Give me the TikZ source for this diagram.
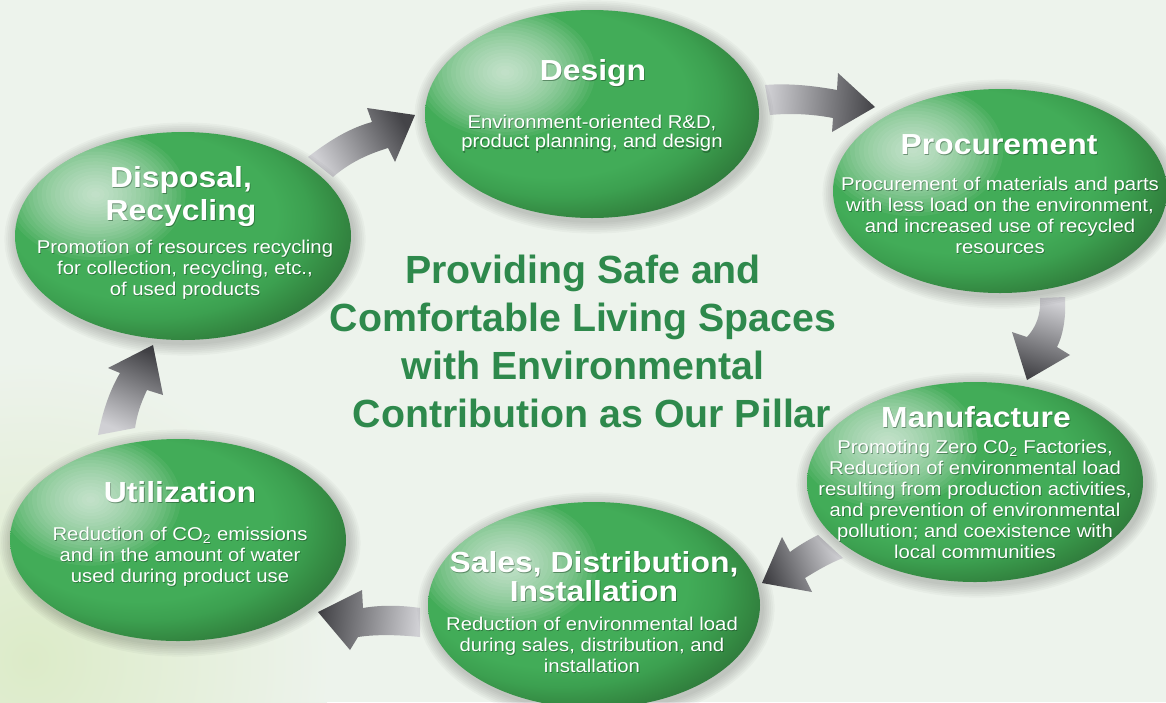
\documentclass[tikz,border=0pt]{standalone}
\usepackage{fontspec}
\setmainfont{Liberation Sans}
\newfontfamily\wf{Liberation Sans}[FakeStretch=1.1]
\usetikzlibrary{shapes.geometric}
\definecolor{bgc}{RGB}{237,243,236}
\definecolor{glowc}{RGB}{220,235,200}
\definecolor{cgreen}{RGB}{46,137,76}
\definecolor{arrlight}{RGB}{208,208,212}
\definecolor{arrdark}{RGB}{68,68,72}
\definecolor{gshadow}{RGB}{18,58,28}
\definecolor{gC}{RGB}{66,172,88}
\definecolor{gD}{RGB}{60,160,80}
\definecolor{gE}{RGB}{52,137,66}
\definecolor{gF}{RGB}{44,113,56}
\definecolor{gG}{RGB}{40,100,52}
\pgfdeclareradialshading{greenball}{\pgfqpoint{-10bp}{8bp}}{%
  color(0bp)=(gC); color(20bp)=(gC);
  color(24bp)=(gD); color(28bp)=(gE); color(32bp)=(gF); color(38bp)=(gG);
  color(50bp)=(gG)}
\newcommand\ttlfont{\wf\bfseries\fontsize{29}{33}\selectfont}
\newcommand\ttlfontb{\wf\bfseries\fontsize{29}{28.5}\selectfont}
\newcommand\bdyfont{\wf\fontsize{18.5}{21}\selectfont}
\newcommand\bdyfontb{\wf\fontsize{18.5}{19.5}\selectfont}
\newcommand\gtext[5]{%
  \node[txt, font={#4}, text=gshadow, opacity=0.45, xshift=0.8pt, yshift=-1.2pt] (#1s) at (#2,#3) {#5};
  \node[txt, font={#4}, text=white] (#1) at (#2,#3) {#5};}
\newcommand\ellshadow[4]{%
  \foreach \k in {1,...,7}
    \fill[black, opacity=0.028] (#1+2,#2+3) ellipse [x radius={#3+\k*1.8}, y radius={#4+\k*1.8}];}
\newcommand\ellhl[4]{%
  \begin{scope}
    \clip (#1,#2) ellipse [x radius=#3, y radius=#4];
    \foreach \k in {1,...,20}
      \fill[white, opacity=0.058] ({#1-0.52*#3},{#2-0.40*#4}) ellipse [x radius={\k*4.5}, y radius={\k*3.3}];
  \end{scope}}
\tikzset{
  gell/.style={ellipse, shading=greenball, inner sep=0pt, draw=none},
  txt/.style={anchor=north, align=center, inner sep=0pt},
  blockarrow/.style={top color=arrdark, bottom color=arrlight, draw=none},
}
\begin{document}
\begin{tikzpicture}[x=1pt, y=-1pt]
\useasboundingbox (0,0) rectangle (1166,702);
\fill[bgc] (0,0) rectangle (1166,702);
\shade[inner color=glowc, outer color=bgc] (30,660) circle (300);

% arrows
\shade[blockarrow, shading angle=-61] (308,157) .. controls (330,140) and (350,128) .. (372,122)
  -- (367,108) -- (415,115) -- (395,162) -- (388,148) .. controls (365,155) and (348,164) .. (333,177) -- cycle;
\shade[blockarrow, shading angle=-93] (765,85) .. controls (790,83) and (815,86) .. (837,90)
  -- (838,73) -- (875,107) -- (832,132) -- (833,118) .. controls (812,114) and (790,113) .. (770,115) -- cycle;
\shade[blockarrow, shading angle=163] (1040,298) .. controls (1041,315) and (1036,327) .. (1027,337)
  -- (1012,332) -- (1027,380) -- (1070,355) -- (1057,347) .. controls (1064,333) and (1066,315) .. (1065,297) -- cycle;
\shade[blockarrow, shading angle=112] (818,535) .. controls (808,540) and (798,546) .. (790,552)
  -- (782,537) -- (762,583) -- (812,592) -- (805,578) .. controls (818,570) and (830,563) .. (843,558) -- cycle;
\shade[blockarrow, shading angle=84] (420,608) .. controls (400,605) and (380,605) .. (363,608)
  -- (362,590) -- (318,612) -- (350,650) -- (358,637) .. controls (378,634) and (400,635) .. (420,637) -- cycle;
\shade[blockarrow, shading angle=-23] (98,435) .. controls (103,410) and (110,390) .. (120,373)
  -- (108,368) -- (153,345) -- (163,395) -- (147,390) .. controls (140,405) and (137,415) .. (135,428) -- cycle;

% shadows
\ellshadow{592}{114}{167}{104}
\ellshadow{1000}{191}{167}{102}
\ellshadow{975}{482}{168}{100}
\ellshadow{594}{605}{166}{103}
\ellshadow{178}{540}{168}{101}
\ellshadow{183}{236}{168}{104}

% ellipses
\node[gell, minimum width=334pt, minimum height=208pt] (design) at (592,114) {};
\node[gell, minimum width=334pt, minimum height=204pt] (procure) at (1000,191) {};
\node[gell, minimum width=336pt, minimum height=200pt] (manuf) at (975,482) {};
\node[gell, minimum width=332pt, minimum height=206pt] (sales) at (594,605) {};
\node[gell, minimum width=336pt, minimum height=202pt] (util) at (178,540) {};
\node[gell, minimum width=336pt, minimum height=208pt] (disposal) at (183,236) {};

% highlights
\ellhl{592}{114}{167}{104}
\ellhl{1000}{191}{167}{102}
\ellhl{975}{482}{168}{100}
\ellhl{594}{605}{166}{103}
\ellhl{178}{540}{168}{101}
\ellhl{183}{236}{168}{104}

% titles
\gtext{designT}{593}{59.5}{\ttlfont}{Design}
\gtext{procureT}{999}{134.5}{\ttlfont}{Procurement}
\gtext{manufT}{976}{406.5}{\ttlfont}{Manufacture}
\gtext{salesT}{594}{551.5}{\ttlfontb}{Sales, Distribution,\\Installation}
\gtext{utilT}{180}{481}{\ttlfont}{Utilization}
\gtext{disposalT}{181}{166.5}{\ttlfont}{Disposal,\\Recycling}

% bodies
\gtext{designB}{592}{114.7}{\bdyfontb}{Environment-oriented R\&D,\\product planning, and design}
\gtext{procureB}{1000}{176.7}{\bdyfont}{Procurement of materials and parts\\with less load on the environment,\\and increased use of recycled\\resources}
\gtext{manufB}{975}{439.7}{\bdyfont}{Promoting Zero C0\textsubscript{2} Factories,\\Reduction of environmental load\\resulting from production activities,\\and prevention of environmental\\pollution; and coexistence with\\local communities}
\gtext{salesB}{592}{616.7}{\bdyfont}{Reduction of environmental load\\during sales, distribution, and\\installation}
\gtext{utilB}{180}{526.7}{\bdyfont}{Reduction of CO\textsubscript{2} emissions\\and in the amount of water\\used during product use}
\gtext{disposalB}{185}{239.7}{\bdyfont}{Promotion of resources recycling\\for collection, recycling, etc.,\\of used products}

% centre statement
\node[txt, font=\bfseries\fontsize{39.3}{48}\selectfont, text=cgreen] (pillar) at (583,255)
  {Providing Safe and\\Comfortable Living Spaces\\with Environmental\\\hspace*{18pt}Contribution as Our Pillar};
\end{tikzpicture}
\end{document}
